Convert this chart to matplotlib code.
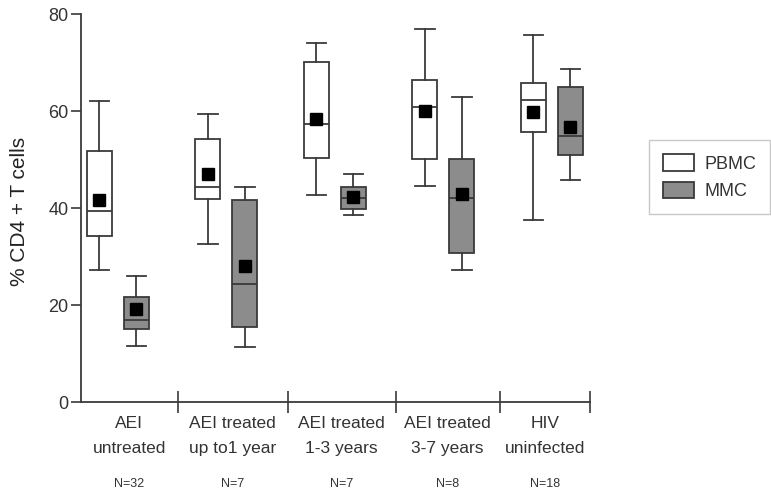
"""
Box plots of % CD4+ T cells in PBMC and MMC across AEI treatment groups.
"""

import matplotlib

matplotlib.use("Agg")
import matplotlib.pyplot as plt
from matplotlib.patches import Patch

plt.rcParams["font.family"] = ["Liberation Sans", "DejaVu Sans"]

groups = ["AEI\nuntreated", "AEI treated\nup to1 year", "AEI treated\n1-3 years",
          "AEI treated\n3-7 years", "HIV\nuninfected"]
n_labels = ["N=32", "N=7", "N=7", "N=8", "N=18"]

# five-number summaries + mean
pbmc_low = [27.3, 32.6, 42.7, 44.5, 37.6]
pbmc_q1 = [34.3, 41.9, 50.4, 50.2, 55.7]
pbmc_med = [39.4, 44.4, 57.3, 60.8, 62.2]
pbmc_q3 = [51.8, 54.2, 70.1, 66.5, 65.8]
pbmc_high = [62.0, 59.4, 74.0, 76.9, 75.7]
pbmc_mean = [41.7, 47.1, 58.4, 60.1, 59.8]

mmc_low = [11.7, 11.3, 38.6, 27.3, 45.7]
mmc_q1 = [15.1, 15.5, 39.9, 30.7, 51.0]
mmc_med = [17.0, 24.3, 42.1, 42.0, 54.9]
mmc_q3 = [21.6, 41.7, 44.3, 50.1, 65.0]
mmc_high = [26.0, 44.3, 47.1, 63.0, 68.7]
mmc_mean = [19.2, 28.1, 42.4, 43.0, 56.7]

# group boundaries along the x axis (separator ticks)
bounds = [-0.34, 0.553, 1.567, 2.56, 3.52, 4.35]

EDGE = "#3a3a3a"
GRAY = "#8c8c8c"


def make_stats(low, q1, med, q3, high, mean):
    return [dict(whislo=a, q1=b, med=c, q3=d, whishi=e, mean=f, fliers=[])
            for a, b, c, d, e, f in zip(low, q1, med, q3, high, mean)]


fig = plt.figure(figsize=(7.71, 4.92), dpi=100)
ax = fig.add_axes([0.105, 0.1823, 0.66, 0.7892])

common = dict(
    widths=0.23,
    showmeans=True,
    patch_artist=True,
    capwidths=0.18,
    whiskerprops=dict(color=EDGE, lw=1.3),
    capprops=dict(color=EDGE, lw=1.3),
    medianprops=dict(color=EDGE, lw=1.3),
    meanprops=dict(marker="s", markerfacecolor="black", markeredgecolor="black",
                   markersize=8),
)

pos = list(range(len(groups)))
ax.bxp(make_stats(pbmc_low, pbmc_q1, pbmc_med, pbmc_q3, pbmc_high, pbmc_mean),
       positions=[p - 0.17 for p in pos],
       boxprops=dict(facecolor="white", edgecolor=EDGE, lw=1.3), **common)
ax.bxp(make_stats(mmc_low, mmc_q1, mmc_med, mmc_q3, mmc_high, mmc_mean),
       positions=[p + 0.17 for p in pos],
       boxprops=dict(facecolor=GRAY, edgecolor=EDGE, lw=1.3), **common)

ax.set_xlim(bounds[0], bounds[-1])
ax.set_ylim(0, 80)
ax.set_yticks([0, 20, 40, 60, 80])
ax.tick_params(axis="y", labelsize=13, length=7, width=1.2, color=EDGE,
               labelcolor="#333333", pad=2)
fig.text(20 / 771, 1 - 211 / 492, "% CD4 + T cells", rotation=90,
         ha="center", va="center", fontsize=15, color="#222222")

# separator ticks crossing the x axis
ax.set_xticks(bounds[1:])
ax.set_xticklabels([])
ax.tick_params(axis="x", direction="inout", length=16, width=1.2, color=EDGE)

for i in range(len(groups)):
    mid = (bounds[i] + bounds[i + 1]) / 2
    ax.text(mid, -2.8, groups[i], ha="center", va="top", fontsize=12.5,
            linespacing=1.85, color="#333333", clip_on=False)
    ax.text(mid, -16.9, n_labels[i], ha="center", va="center", fontsize=9,
            color="#333333", clip_on=False)

for side in ("top", "right"):
    ax.spines[side].set_visible(False)
for side in ("left", "bottom"):
    ax.spines[side].set_color(EDGE)
    ax.spines[side].set_linewidth(1.3)

handles = [Patch(facecolor="white", edgecolor=EDGE, lw=1.3, label="PBMC"),
           Patch(facecolor=GRAY, edgecolor=EDGE, lw=1.3, label="MMC")]
leg = fig.legend(handles=handles, loc="upper left",
                 bbox_to_anchor=(649 / 771, 1 - 140 / 492), fontsize=13,
                 fancybox=False, edgecolor="#bbbbbb", handlelength=1.7,
                 handleheight=1.0, borderpad=0.8, labelspacing=0.5,
                 borderaxespad=0, handletextpad=0.55)
leg.get_frame().set_linewidth(1.0)
for t in leg.get_texts():
    t.set_color("#333333")

fig.savefig("out.png", dpi=100)
